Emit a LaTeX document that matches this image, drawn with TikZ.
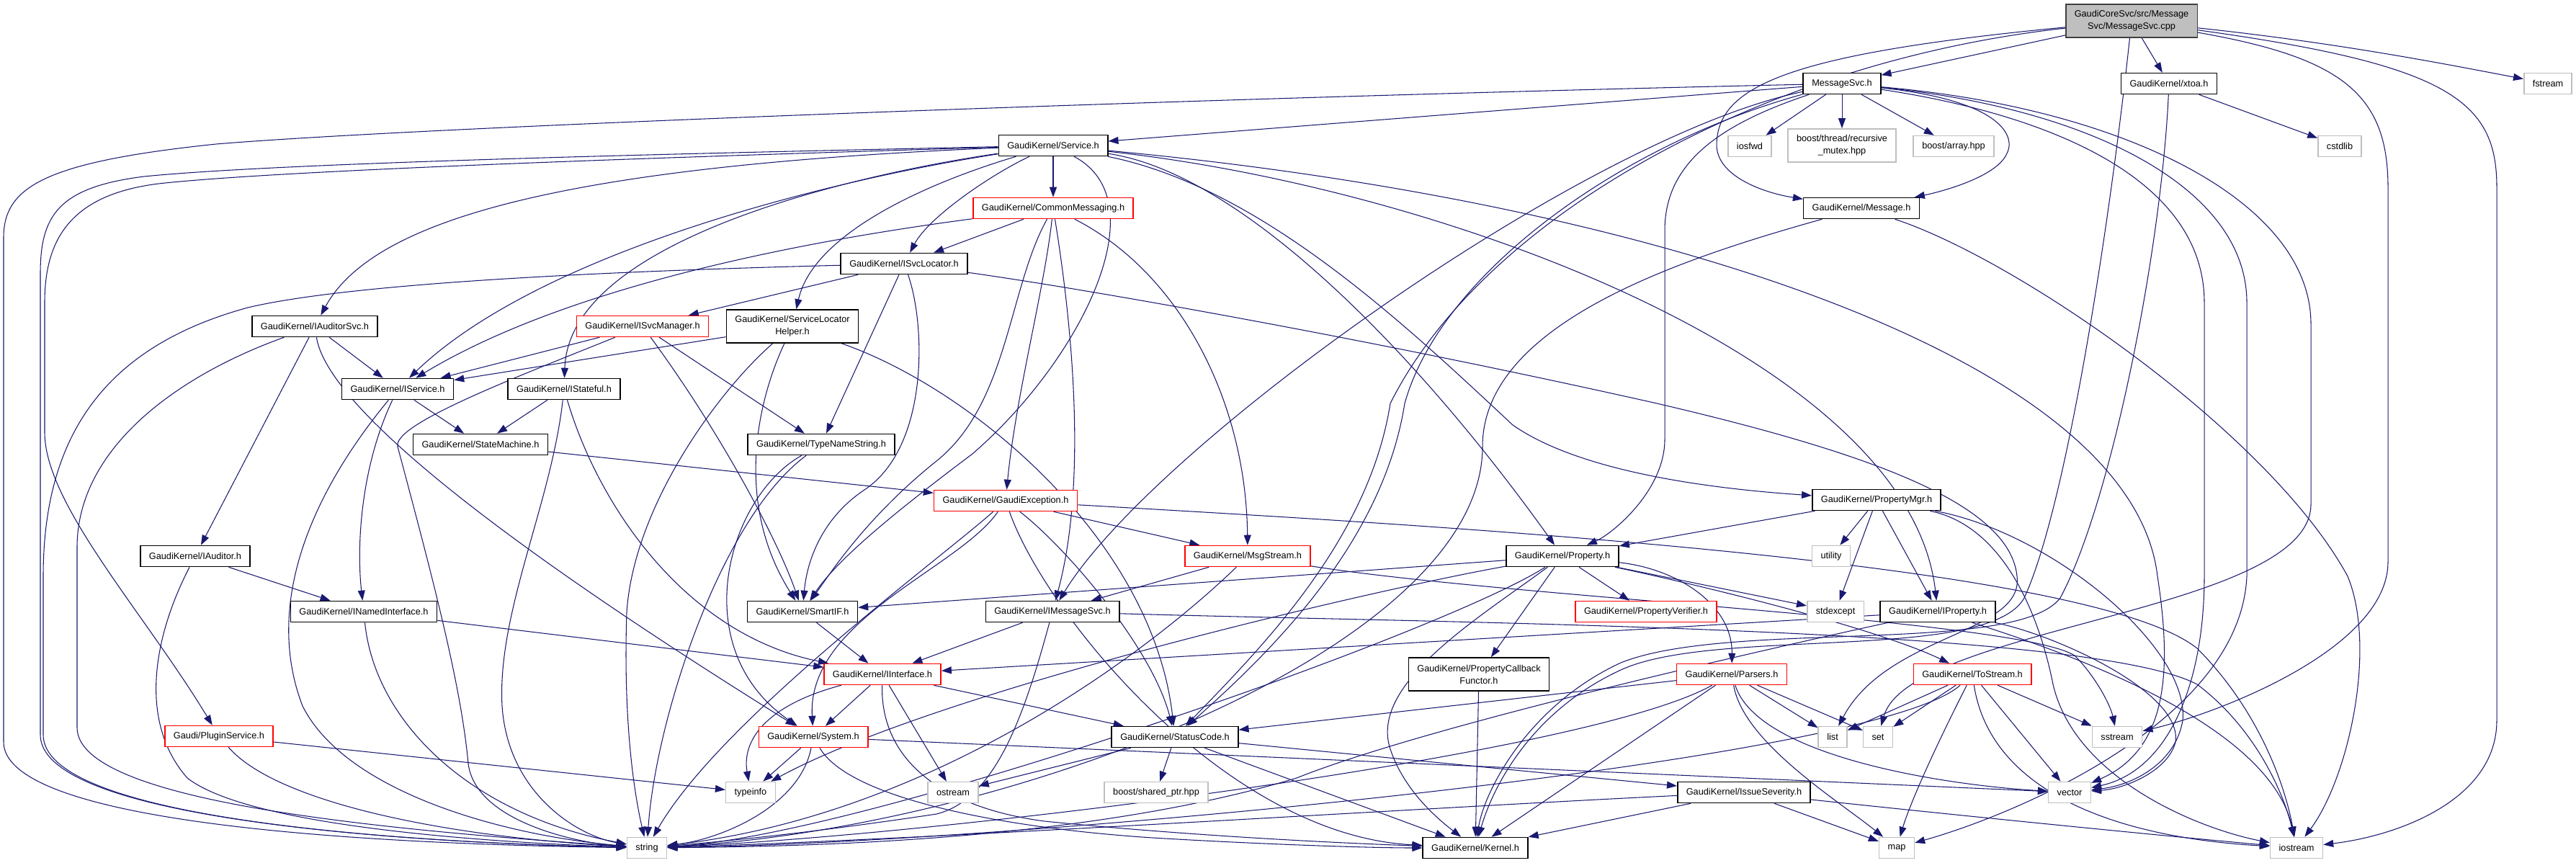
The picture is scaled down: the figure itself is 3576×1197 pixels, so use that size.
\documentclass[tikz,border=0pt]{standalone}
\usepackage{fontspec}
\setmainfont{Liberation Sans}
\usetikzlibrary{arrows.meta}
\definecolor{edgec}{HTML}{191970}
\definecolor{grayb}{HTML}{BFBFBF}
\newcommand\dxfont{\fontsize{7.25pt}{9.7pt}\selectfont}
\pgfdeclarelayer{edgelayer}
\pgfsetlayers{edgelayer,main}
\tikzset{
 nb/.style={draw=black, line width=0.9pt, fill=white, font=\dxfont, inner xsep=0.24cm, inner ysep=0pt, minimum height=0.58cm, align=center},
 nr/.style={nb, draw=red},
 ng/.style={nb, draw=grayb},
 nroot/.style={nb, fill=grayb, draw=black!75},
 two/.style={minimum height=0.92cm},
 e/.style={draw=edgec, line width=0.6pt, -{Triangle[length=0.28cm,width=0.2cm]}},
}
\begin{document}
\begin{tikzpicture}[x=0.02cm, y=-0.02cm]
\useasboundingbox (0,0) rectangle (3576,1197);
% nodes
\node[nroot,two] (root) at (2959,29) {GaudiCoreSvc/src/Message\\Svc/MessageSvc.cpp};
\node[nb] (msvc) at (2557,116) {MessageSvc.h};
\node[nb] (xtoa) at (3011,116) {GaudiKernel/xtoa.h};
\node[ng] (fstream) at (3537,116) {fstream};
\node[nb] (service) at (1462,202) {GaudiKernel/Service.h};
\node[ng] (iosfwd) at (2429,203) {iosfwd};
\node[ng,two] (bthread) at (2557,202) {boost/thread/recursive\\\_mutex.hpp};
\node[ng] (barray) at (2712,203) {boost/array.hpp};
\node[ng] (cstdlib) at (3248,203) {cstdlib};
\node[nr] (commsg) at (1462,289) {GaudiKernel/CommonMessaging.h};
\node[nb] (message) at (2584,289) {GaudiKernel/Message.h};
\node[nb] (isvcloc) at (1255,366) {GaudiKernel/ISvcLocator.h};
\node[nb] (iauditorsvc) at (437,453) {GaudiKernel/IAuditorSvc.h};
\node[nr] (isvcmgr) at (892,453) {GaudiKernel/ISvcManager.h};
\node[nb,two] (slhelper) at (1100,453) {GaudiKernel/ServiceLocator\\Helper.h};
\node[nb] (iservice) at (552,540) {GaudiKernel/IService.h};
\node[nb] (istateful) at (783,540) {GaudiKernel/IStateful.h};
\node[nb] (statemachine) at (667,617) {GaudiKernel/StateMachine.h};
\node[nb] (typename) at (1140,617) {GaudiKernel/TypeNameString.h};
\node[nb] (propmgr) at (2605,694) {GaudiKernel/PropertyMgr.h};
\node[nr] (gexception) at (1396,695) {GaudiKernel/GaudiException.h};
\node[nb] (iauditor) at (271,772) {GaudiKernel/IAuditor.h};
\node[nr] (msgstream) at (1732,772) {GaudiKernel/MsgStream.h};
\node[nb] (property) at (2169,772) {GaudiKernel/Property.h};
\node[ng] (utility) at (2542,772) {utility};
\node[nb] (inamed) at (505,849) {GaudiKernel/INamedInterface.h};
\node[nb] (smartif) at (1114,849) {GaudiKernel/SmartIF.h};
\node[nb] (imsgsvc) at (1461,849) {GaudiKernel/IMessageSvc.h};
\node[nr] (propverifier) at (2285,849) {GaudiKernel/PropertyVerifier.h};
\node[ng] (stdexcept) at (2548,849) {stdexcept};
\node[nb] (iproperty) at (2690,849) {GaudiKernel/IProperty.h};
\node[nr] (iinterface) at (1225,936) {GaudiKernel/IInterface.h};
\node[nb,two] (propcallback) at (2053,936) {GaudiKernel/PropertyCallback\\Functor.h};
\node[nr] (parsers) at (2404,936) {GaudiKernel/Parsers.h};
\node[nr] (tostream) at (2738,936) {GaudiKernel/ToStream.h};
\node[nr] (plugin) at (304,1022) {Gaudi/PluginService.h};
\node[nr] (system) at (1129,1023) {GaudiKernel/System.h};
\node[nb] (statuscode) at (1631,1023) {GaudiKernel/StatusCode.h};
\node[ng] (list) at (2544,1023) {list};
\node[ng] (set) at (2607,1023) {set};
\node[ng] (sstream) at (2939,1023) {sstream};
\node[ng] (typeinfo) at (1042,1100) {typeinfo};
\node[ng] (ostream) at (1323,1100) {ostream};
\node[ng] (bshared) at (1605,1100) {boost/shared\_ptr.hpp};
\node[nb] (issue) at (2421,1100) {GaudiKernel/IssueSeverity.h};
\node[ng] (vector) at (2873,1100) {vector};
\node[ng] (string) at (898,1177) {string};
\node[nb] (kernel) at (2048,1177) {GaudiKernel/Kernel.h};
\node[ng] (map) at (2633,1177) {map};
\node[ng] (iostream) at (3188,1177) {iostream};

\begin{pgfonlayer}{edgelayer}
% root
\draw[e] (root) -- (msvc);
\draw[e] (root) -- (xtoa);
\draw[e] (root) .. controls (3250,60) and (3400,90) .. (fstream);
\draw[e] (root) .. controls (2480,75) and (2385,120) .. (2383,200) .. controls (2382,245) and (2450,268) .. (message);
\draw[e] (root) .. controls (2450,85) and (2060,300) .. (1930,560) .. controls (1900,750) and (1750,900) .. (statuscode);
\draw[e] (root) .. controls (2930,300) and (2870,700) .. (2810,830) .. controls (2760,920) and (2380,870) .. (2250,930) .. controls (2120,990) and (2070,1100) .. (kernel);
\draw[e] (root) .. controls (3250,80) and (3315,130) .. (3315,260) -- (3315,780) .. controls (3315,900) and (3080,990) .. (sstream);
\draw[e] (root) .. controls (3400,90) and (3466,140) .. (3466,260) -- (3466,1000) .. controls (3466,1110) and (3330,1160) .. (iostream);
% MessageSvc.h
\draw[e] (msvc) -- (service);
\draw[e] (msvc) -- (iosfwd);
\draw[e] (msvc) -- (bthread);
\draw[e] (msvc) -- (barray);
\draw[e] (msvc) .. controls (2780,140) and (2800,190) .. (2785,215) .. controls (2770,245) and (2700,265) .. (message);
\draw[e] (msvc) .. controls (2380,175) and (2311,230) .. (2311,320) -- (2311,610) .. controls (2311,680) and (2240,740) .. (property);
\draw[e] (msvc) .. controls (2200,190) and (1600,620) .. (imsgsvc);
\draw[e] (msvc) .. controls (2250,200) and (2000,380) .. (1950,560) .. controls (1920,750) and (1770,900) .. (statuscode);
\draw[e] (msvc) .. controls (1700,135) and (600,175) .. (300,200) .. controls (60,225) and (5,260) .. (5,330) -- (5,1030) .. controls (5,1130) and (400,1170) .. (string);
\draw[e] (msvc) .. controls (2850,160) and (3060,250) .. (3060,420) -- (3060,800) .. controls (3060,950) and (3010,1070) .. (vector);
\draw[e] (msvc) .. controls (2900,150) and (3119,260) .. (3119,420) -- (3119,800) .. controls (3110,1000) and (2800,1130) .. (map);
\draw[e] (msvc) .. controls (2950,150) and (3208,280) .. (3208,450) -- (3208,700) .. controls (3208,850) and (2650,870) .. (set);
% xtoa
\draw[e] (xtoa) -- (cstdlib);
\draw[e] (xtoa) .. controls (3000,350) and (2930,700) .. (2860,830) .. controls (2800,910) and (2400,860) .. (2250,920) .. controls (2120,980) and (2060,1100) .. (kernel);
% Message.h
\draw[e] (message) .. controls (2330,360) and (2058,450) .. (2058,620) .. controls (2058,900) and (1400,1150) .. (string);
\draw[e] (message) .. controls (2800,360) and (3150,600) .. (3259,800) .. controls (3300,900) and (3260,1080) .. (iostream);
% Service.h
\draw[e] (service) .. controls (1000,212) and (400,225) .. (200,245) .. controls (80,260) and (56,300) .. (56,380) -- (56,1020) .. controls (56,1130) and (500,1168) .. (string);
\draw[e] (service) .. controls (1000,216) and (400,235) .. (220,255) .. controls (100,270) and (62,330) .. (62,420) -- (62,600) .. controls (62,700) and (200,850) .. (plugin);
\draw[e] (service) .. controls (800,230) and (520,300) .. (iauditorsvc);
\draw[e] (service) .. controls (1150,250) and (750,350) .. (iservice);
\draw[e] (service) .. controls (1200,240) and (790,330) .. (istateful);
\draw[e] (service) .. controls (1380,240) and (1290,300) .. (isvcloc);
\draw[e] (service) -- (commsg);
\draw[e] (service) .. controls (1300,250) and (1130,320) .. (slhelper);
\draw[e] (service) .. controls (1610,280) and (1500,500) .. (1350,630) .. controls (1230,720) and (1160,780) .. (smartif);
\draw[e] (service) .. controls (1720,240) and (1960,480) .. (property);
\draw[e] (service) .. controls (1750,260) and (1950,450) .. (2100,590) .. controls (2200,660) and (2400,680) .. (propmgr);
\draw[e] (service) .. controls (2000,260) and (2650,500) .. (iproperty);
\draw[e] (service) .. controls (2300,280) and (2960,500) .. (2995,800) .. controls (3015,930) and (3010,1040) .. (vector);
% CommonMessaging.h
\draw[e] (commsg) -- (isvcloc);
\draw[e] (commsg) .. controls (1150,330) and (800,390) .. (iservice);
\draw[e] (commsg) .. controls (1400,400) and (1400,560) .. (1300,640) .. controls (1200,720) and (1150,800) .. (smartif);
\draw[e] (commsg) .. controls (1450,400) and (1410,550) .. (gexception);
\draw[e] (commsg) .. controls (1480,400) and (1515,650) .. (imsgsvc);
\draw[e] (commsg) .. controls (1640,380) and (1730,560) .. (msgstream);
% ISvcLocator.h
\draw[e] (isvcloc) .. controls (900,375) and (500,390) .. (344,427) .. controls (150,480) and (60,600) .. (60,800) -- (60,1020) .. controls (60,1130) and (500,1168) .. (string);
\draw[e] (isvcloc) -- (isvcmgr);
\draw[e] (isvcloc) -- (typename);
\draw[e] (isvcloc) .. controls (1285,450) and (1290,620) .. (1200,680) .. controls (1140,720) and (1120,780) .. (smartif);
\draw[e] (isvcloc) .. controls (1500,400) and (1900,470) .. (2300,560) .. controls (2600,630) and (2790,700) .. (2800,800) .. controls (2810,880) and (2620,880) .. (list);
% ISvcManager.h
\draw[e] (isvcmgr) -- (iservice);
\draw[e] (isvcmgr) .. controls (700,530) and (545,590) .. (552,620) .. controls (600,800) and (640,950) .. (650,1060) .. controls (660,1140) and (800,1170) .. (string);
\draw[e] (isvcmgr) -- (typename);
\draw[e] (isvcmgr) .. controls (1000,600) and (1080,750) .. (smartif);
% ServiceLocatorHelper.h
\draw[e] (slhelper) -- (iservice);
\draw[e] (slhelper) .. controls (1000,540) and (880,700) .. (870,850) .. controls (865,1000) and (880,1100) .. (string);
\draw[e] (slhelper) .. controls (1050,560) and (1020,700) .. (smartif);
\draw[e] (slhelper) .. controls (1350,540) and (1600,750) .. (statuscode);
% IAuditorSvc.h
\draw[e] (iauditorsvc) -- (iservice);
\draw[e] (iauditorsvc) -- (iauditor);
\draw[e] (iauditorsvc) .. controls (250,520) and (107,620) .. (107,760) -- (107,1010) .. controls (107,1110) and (500,1150) .. (string);
\draw[e] (iauditorsvc) .. controls (460,600) and (900,880) .. (system);
% IService.h
\draw[e] (iservice) -- (statemachine);
\draw[e] (iservice) .. controls (500,650) and (495,760) .. (inamed);
\draw[e] (iservice) .. controls (420,700) and (370,850) .. (420,980) .. controls (480,1100) and (700,1160) .. (string);
% IStateful.h
\draw[e] (istateful) -- (statemachine);
\draw[e] (istateful) .. controls (765,700) and (690,850) .. (697,980) .. controls (705,1100) and (800,1160) .. (string);
\draw[e] (istateful) .. controls (830,700) and (950,880) .. (iinterface);
% StateMachine.h
\draw[e] (statemachine) -- (gexception);
% IAuditor.h
\draw[e] (iauditor) -- (inamed);
\draw[e] (iauditor) .. controls (215,880) and (190,1000) .. (260,1080) .. controls (350,1150) and (700,1170) .. (string);
% TypeNameString.h
\draw[e] (typename) .. controls (1000,720) and (910,1000) .. (string);
\draw[e] (typename) .. controls (1010,690) and (950,900) .. (system);
% GaudiException.h
\draw[e] (gexception) -- (msgstream);
\draw[e] (gexception) .. controls (1300,780) and (1000,1000) .. (string);
\draw[e] (gexception) .. controls (1330,790) and (1120,860) .. (system);
\draw[e] (gexception) .. controls (1480,760) and (1600,900) .. (statuscode);
\draw[e] (gexception) .. controls (1450,850) and (1700,1160) .. (kernel);
\draw[e] (gexception) .. controls (2000,730) and (2900,780) .. (3050,900) .. controls (3130,980) and (3170,1080) .. (iostream);
% MsgStream.h
\draw[e] (msgstream) -- (imsgsvc);
\draw[e] (msgstream) .. controls (1600,900) and (1300,1130) .. (string);
\draw[e] (msgstream) .. controls (2100,830) and (2800,860) .. (2880,910) .. controls (2910,940) and (2930,980) .. (sstream);
% Property.h
\draw[e] (property) -- (smartif);
\draw[e] (property) -- (propverifier);
\draw[e] (property) -- (propcallback);
\draw[e] (property) .. controls (2330,790) and (2405,840) .. (parsers);
\draw[e] (property) .. controls (2350,810) and (2600,870) .. (tostream);
\draw[e] (property) -- (stdexcept);
\draw[e] (property) .. controls (2000,880) and (1200,1160) .. (string);
\draw[e] (property) .. controls (2050,860) and (1900,950) .. (1930,1040) .. controls (1950,1100) and (2000,1140) .. (kernel);
\draw[e] (property) .. controls (1900,820) and (1300,960) .. (typeinfo);
% PropertyMgr.h
\draw[e] (propmgr) -- (property);
\draw[e] (propmgr) -- (utility);
\draw[e] (propmgr) -- (stdexcept);
\draw[e] (propmgr) -- (iproperty);
\draw[e] (propmgr) .. controls (2850,740) and (3040,900) .. (3030,1000) .. controls (3020,1060) and (2960,1090) .. (vector);
\draw[e] (propmgr) .. controls (2780,730) and (2830,850) .. (2850,950) .. controls (2880,1080) and (3050,1150) .. (iostream);
% IProperty.h
\draw[e] (iproperty) -- (iinterface);
\draw[e] (iproperty) .. controls (2550,880) and (2000,1000) .. (1800,1080) .. controls (1500,1170) and (1100,1175) .. (string);
\draw[e] (iproperty) .. controls (2850,880) and (3030,960) .. (3020,1030) .. controls (3010,1070) and (2950,1095) .. (vector);
\draw[e] (iproperty) .. controls (2850,900) and (3150,1000) .. (iostream);
% PropertyCallbackFunctor.h
\draw[e] (propcallback) -- (kernel);
% Parsers.h
\draw[e] (parsers) -- (statuscode);
\draw[e] (parsers) -- (kernel);
\draw[e] (parsers) .. controls (2420,1030) and (2550,1110) .. (map);
\draw[e] (parsers) .. controls (2440,1050) and (2700,1090) .. (vector);
\draw[e] (parsers) -- (list);
\draw[e] (parsers) -- (set);
\draw[e] (parsers) .. controls (2200,1050) and (1300,1160) .. (string);
% ToStream.h
\draw[e] (tostream) -- (list);
\draw[e] (tostream) -- (set);
\draw[e] (tostream) -- (sstream);
\draw[e] (tostream) -- (vector);
\draw[e] (tostream) .. controls (2680,1050) and (2650,1120) .. (map);
\draw[e] (tostream) .. controls (2760,1080) and (2900,1160) .. (iostream);
\draw[e] (tostream) .. controls (2600,1060) and (1400,1170) .. (string);
% PluginService.h
\draw[e] (plugin) .. controls (380,1110) and (600,1160) .. (string);
\draw[e] (plugin) -- (typeinfo);
% IInterface.h
\draw[e] (iinterface) .. controls (1060,980) and (1030,1030) .. (typeinfo);
\draw[e] (iinterface) -- (system);
\draw[e] (iinterface) -- (ostream);
\draw[e] (iinterface) -- (statuscode);
\draw[e] (iinterface) .. controls (1222,1050) and (1300,1120) .. (1450,1140) .. controls (1650,1160) and (1850,1170) .. (kernel);
% System.h
\draw[e] (system) -- (typeinfo);
\draw[e] (system) .. controls (1110,1120) and (1000,1165) .. (string);
\draw[e] (system) .. controls (1180,1110) and (1400,1150) .. (1600,1163) .. controls (1750,1172) and (1900,1177) .. (kernel);
\draw[e] (system) -- (vector);
% StatusCode.h
\draw[e] (statuscode) -- (ostream);
\draw[e] (statuscode) -- (bshared);
\draw[e] (statuscode) -- (issue);
\draw[e] (statuscode) -- (kernel);
% IssueSeverity.h
\draw[e] (issue) -- (kernel);
\draw[e] (issue) -- (map);
\draw[e] (issue) .. controls (2700,1130) and (3000,1160) .. (iostream);
\draw[e] (issue) .. controls (2000,1120) and (1300,1165) .. (string);
% INamedInterface.h
\draw[e] (inamed) -- (iinterface);
\draw[e] (inamed) .. controls (520,1000) and (650,1130) .. (string);
% SmartIF.h
\draw[e] (smartif) -- (iinterface);
% IMessageSvc.h
\draw[e] (imsgsvc) -- (iinterface);
\draw[e] (imsgsvc) .. controls (1420,1000) and (1380,1110) .. (1300,1130) .. controls (1100,1160) and (980,1170) .. (string);
\draw[e] (imsgsvc) .. controls (2000,865) and (2900,870) .. (3050,950) .. controls (3130,1010) and (3170,1100) .. (iostream);
\end{pgfonlayer}
\end{tikzpicture}
\end{document}
